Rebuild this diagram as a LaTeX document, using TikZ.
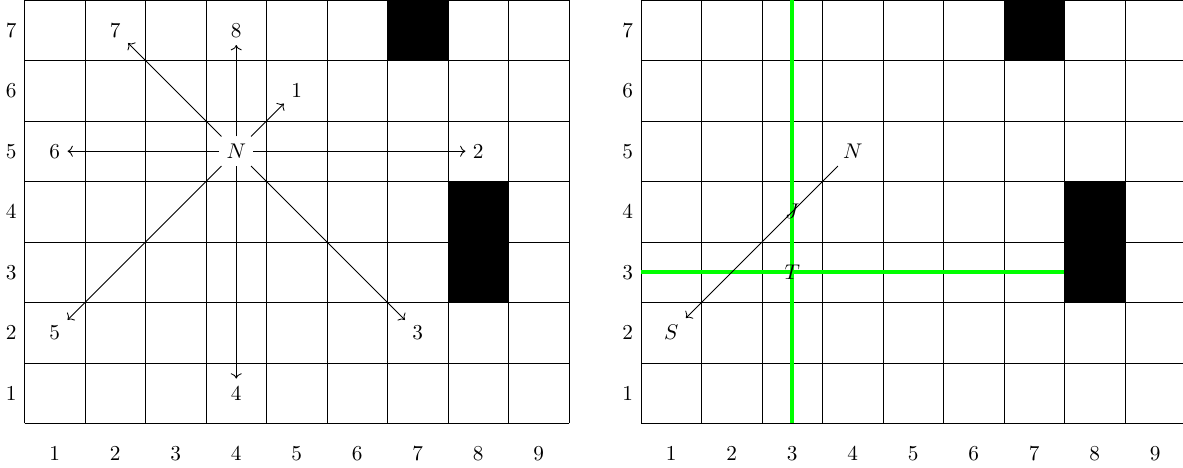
\documentclass[tikz,border=0pt]{standalone}
\usepackage{amsmath}
\usetikzlibrary{arrows.meta, positioning}

\tikzset{
  blocked/.style={fill=black},
  route/.style={green, line width=2pt},
  gridline/.style={black, thin}
}

\begin{document}
\begin{tikzpicture}
    \useasboundingbox (0.095,-0.22) rectangle (19.65,7.5);

    % Left panel: the eight neighbour directions of N
    \begin{scope}
      \draw[gridline, shift={(0.5,0.5)}] (0,0) grid (9,7);
      \fill[blocked] (6.5,6.5) rectangle (7.5,7.5);
      \fill[blocked] (7.5,2.5) rectangle (8.5,4.5);
      \foreach \c in {1,...,9}
        \node (colL\c) at (\c,0) {\c};
      \foreach \r in {1,...,7}
        \node (rowL\r) at (0.28,\r) {\r};
      \node (NL) at (4,5) {$N$};
      \foreach \i/\x/\y in {1/5/6, 2/8/5, 3/7/2, 4/4/1, 5/1/2, 6/1/5, 7/2/7, 8/4/7} {
        \node (dir\i) at (\x,\y) {\i};
        \draw[->] (NL) -- (dir\i);
      }
    \end{scope}

    % Right panel: jump from N towards S, stopped at T
    \begin{scope}[xshift=10.19cm]
      \draw[gridline, shift={(0.5,0.5)}] (0,0) grid (9,7);
      \fill[blocked] (6.5,6.5) rectangle (7.5,7.5);
      \fill[blocked] (7.5,2.5) rectangle (8.5,4.5);
      \draw[route] (3,0.5) -- (3,7.5);
      \draw[route] (0.5,3) -- (7.5,3);
      \foreach \c in {1,...,9}
        \node (colR\c) at (\c,0) {\c};
      \foreach \r in {1,...,7}
        \node (rowR\r) at (0.28,\r) {\r};
      \node (NR) at (4,5) {$N$};
      \node (S) at (1,2) {$S$};
      \draw[->] (NR) -- (S);
      \node (J) at (3,4) {$J$};
      \node (T) at (3,3) {$T$};
    \end{scope}
\end{tikzpicture}
\end{document}
